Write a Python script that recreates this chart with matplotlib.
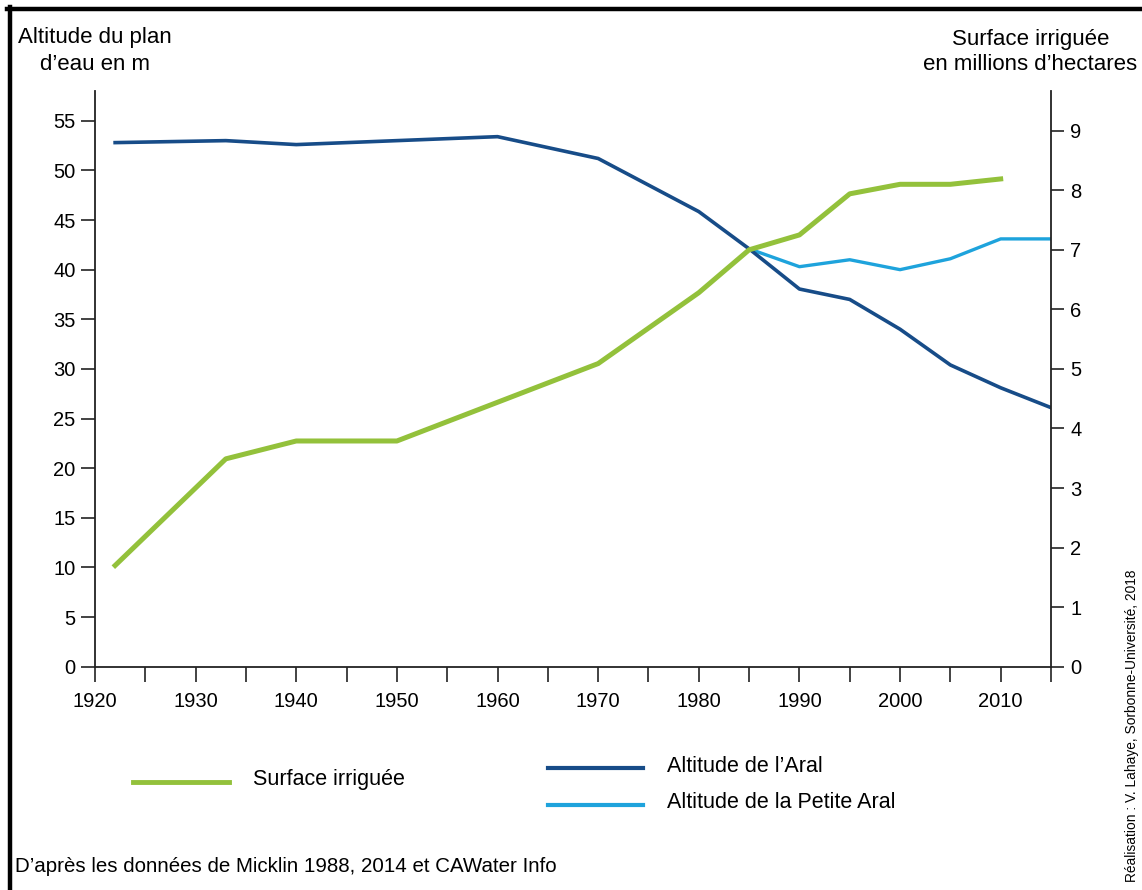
import matplotlib
matplotlib.use("Agg")
import matplotlib.pyplot as plt
from matplotlib.lines import Line2D

plt.rcParams['font.family'] = ['Liberation Sans', 'DejaVu Sans']

# data
years_aral = [1922, 1933, 1940, 1960, 1970, 1980, 1985, 1990, 1995, 2000, 2005, 2010, 2015]
alt_aral = [52.8, 53.0, 52.6, 53.4, 51.2, 45.85, 42.1, 38.05, 37.0, 34.0, 30.4, 28.1, 26.1]

years_petite = [1985, 1990, 1995, 2000, 2005, 2010, 2015]
alt_petite = [42.1, 40.3, 41.0, 40.0, 41.1, 43.1, 43.1]

years_irr = [1922, 1933, 1940, 1950, 1970, 1980, 1985, 1990, 1995, 2000, 2005, 2010]
surf_irr = [1.70, 3.49, 3.79, 3.79, 5.09, 6.28, 7.0, 7.25, 7.94, 8.10, 8.10, 8.19]

left_ticks = [0, 5, 10, 15, 20, 25, 30, 35, 40, 45, 50, 55]
right_ticks = [0, 1, 2, 3, 4, 5, 6, 7, 8, 9]
x_major = list(range(1920, 2016, 5))
x_labels = [str(y) if y % 10 == 0 else "" for y in x_major]

legend_names = ["Surface irriguée", "Altitude de l\u2019Aral", "Altitude de la Petite Aral"]

green = "#93c13b"
dark_blue = "#174c88"
light_blue = "#1ea3dc"

W, H = 1142, 890
fig = plt.figure(figsize=(W / 100, H / 100), dpi=100)

def fx(px):
    return px / W

def fy(py):
    return 1 - py / H

ax = fig.add_axes([fx(95), fy(666.7), fx(1051) - fx(95), fy(91) - fy(666.7)])
ax2 = ax.twinx()

ax.plot(years_aral, alt_aral, color=dark_blue, lw=2.6, zorder=3)
ax.plot(years_petite, alt_petite, color=light_blue, lw=2.4, zorder=2)
ax2.plot(years_irr, surf_irr, color=green, lw=3.6, zorder=1)

ax.set_xlim(1920, 2015)
ax.set_ylim(0, 58)
ax2.set_ylim(0, 58 / 6)

for a in (ax, ax2):
    a.spines["top"].set_visible(False)
    for s in ("left", "right", "bottom"):
        a.spines[s].set_linewidth(1.3)
        a.spines[s].set_color("#222222")
ax2.spines["bottom"].set_visible(False)
ax2.spines["left"].set_visible(False)
ax.spines["right"].set_visible(False)

ax.set_xticks(x_major)
ax.set_xticklabels(x_labels)
ax.set_yticks(left_ticks)
ax2.set_yticks(right_ticks)

ax.tick_params(axis="x", direction="out", length=11, width=1.2, pad=7, labelsize=14.5, color="#222222")
ax.tick_params(axis="y", direction="out", length=10, width=1.2, pad=4, labelsize=14.5, color="#222222")
ax2.tick_params(axis="y", direction="out", length=9, width=1.2, pad=5, labelsize=14.5, color="#222222")

# axis titles
fig.text(fx(95), fy(38), "Altitude du plan", ha="center", va="center", fontsize=16)
fig.text(fx(95), fy(65), "d\u2019eau en m", ha="center", va="center", fontsize=16)
fig.text(fx(1031), fy(39), "Surface irriguée", ha="center", va="center", fontsize=16)
fig.text(fx(1030), fy(64), "en millions d\u2019hectares", ha="center", va="center", fontsize=16)

# legend drawn by hand
fig.add_artist(Line2D([fx(133), fx(229)], [fy(781.5), fy(781.5)], color=green, lw=3.5))
fig.text(fx(253), fy(779), legend_names[0], ha="left", va="center", fontsize=15.5)
fig.add_artist(Line2D([fx(548), fx(643)], [fy(768), fy(768)], color=dark_blue, lw=3))
fig.text(fx(667), fy(766), legend_names[1], ha="left", va="center", fontsize=15.5)
fig.add_artist(Line2D([fx(548), fx(643)], [fy(805), fy(805)], color=light_blue, lw=3))
fig.text(fx(667), fy(803), legend_names[2], ha="left", va="center", fontsize=15.5)

fig.text(fx(15), fy(867), "D\u2019après les données de Micklin 1988, 2014 et CAWater Info",
         ha="left", va="center", fontsize=14.8)
fig.text(fx(1132), fy(570), "Réalisation : V. Lahaye, Sorbonne-Université, 2018",
         rotation=90, ha="center", va="top", fontsize=9.9)

# frame
fig.add_artist(Line2D([fx(7), fx(W + 5)], [fy(9), fy(9)], color="black", lw=3.2))
fig.add_artist(Line2D([fx(9.5), fx(9.5)], [fy(7), fy(H + 5)], color="black", lw=3.2))

fig.savefig("out.png", dpi=100, facecolor="white")
